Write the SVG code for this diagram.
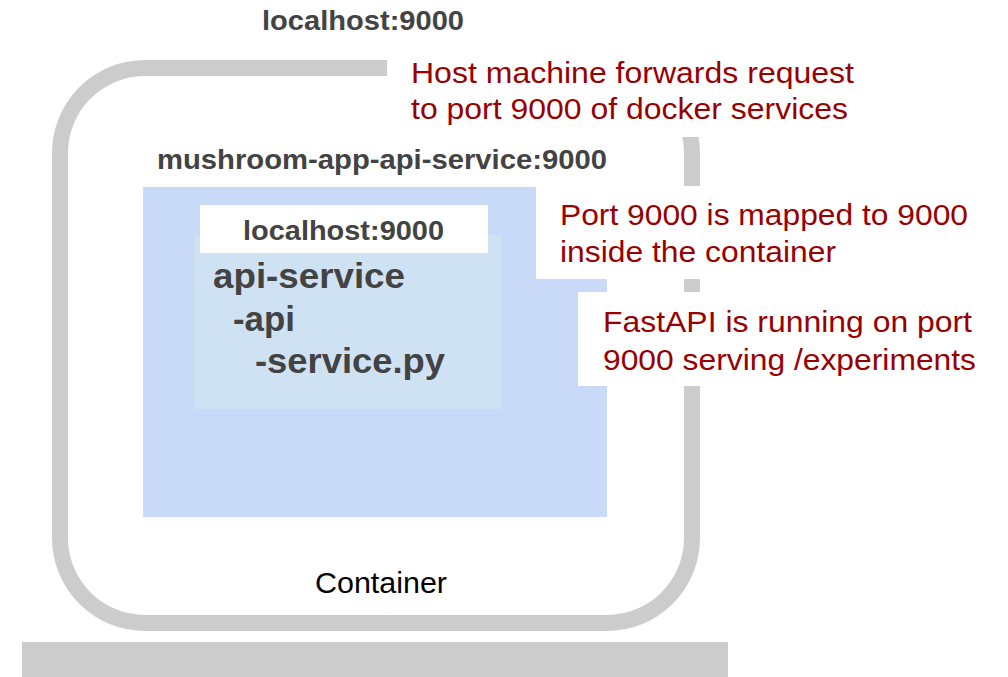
<svg xmlns="http://www.w3.org/2000/svg" width="1008" height="677" viewBox="0 0 1008 677">
  <style>
    .lbl { font-family: "Liberation Sans", Arial, sans-serif; font-weight: bold; fill: #434343; }
    .note { font-family: "Liberation Sans", Arial, sans-serif; font-size: 29px; fill: #990000; }
    .plain { font-family: "Liberation Sans", Arial, sans-serif; font-size: 29px; fill: #000000; }
    .frame { fill: none; stroke: #cccccc; stroke-width: 16; }
    .mask { fill: #ffffff; }
  </style>

  <rect width="1008" height="677" fill="#ffffff"/>

  <!-- host machine base -->
  <g id="host-base">
    <rect x="22" y="642" width="706" height="35" fill="#cccccc"/>
  </g>

  <!-- container outline -->
  <g id="container">
    <rect class="frame" x="60" y="68" width="632" height="555" rx="85" ry="85"/>
    <text class="plain" x="315" y="593" textLength="132" lengthAdjust="spacingAndGlyphs">Container</text>
  </g>

  <!-- host port label -->
  <g id="host-port">
    <text class="lbl" x="262" y="29.5" font-size="28" textLength="202" lengthAdjust="spacingAndGlyphs">localhost:9000</text>
  </g>

  <!-- docker service -->
  <g id="api-service-container">
    <text class="lbl" x="157" y="169" font-size="28" textLength="450" lengthAdjust="spacingAndGlyphs">mushroom-app-api-service:9000</text>
    <rect x="143" y="187" width="464" height="330" fill="#c9daf8"/>
  </g>

  <!-- application inside the container -->
  <g id="api-service-app">
    <rect x="194" y="235" width="308" height="174" fill="#cfe2f3"/>
    <rect x="200" y="205" width="288" height="48" fill="#ffffff"/>
    <text class="lbl" x="243" y="240" font-size="28" textLength="201" lengthAdjust="spacingAndGlyphs">localhost:9000</text>
    <text class="lbl" x="213" y="288" font-size="35" textLength="192" lengthAdjust="spacingAndGlyphs">api-service</text>
    <text class="lbl" x="233" y="331" font-size="35" textLength="62" lengthAdjust="spacingAndGlyphs">-api</text>
    <text class="lbl" x="255" y="373" font-size="35" textLength="190" lengthAdjust="spacingAndGlyphs">-service.py</text>
  </g>

  <!-- annotations -->
  <g id="note-forward">
    <rect class="mask" x="387" y="50" width="500" height="87"/>
    <text class="note" x="411" y="82.5" textLength="443" lengthAdjust="spacingAndGlyphs">Host machine forwards request</text>
    <text class="note" x="411" y="118.5" textLength="437" lengthAdjust="spacingAndGlyphs">to port 9000 of docker services</text>
  </g>

  <g id="note-mapping">
    <rect class="mask" x="536" y="186" width="460" height="93"/>
    <text class="note" x="560" y="225" textLength="408" lengthAdjust="spacingAndGlyphs">Port 9000 is mapped to 9000</text>
    <text class="note" x="560" y="261.5" textLength="276" lengthAdjust="spacingAndGlyphs">inside the container</text>
  </g>

  <g id="note-fastapi">
    <rect class="mask" x="578" y="292" width="425" height="94"/>
    <text class="note" x="603" y="331.5" textLength="369" lengthAdjust="spacingAndGlyphs">FastAPI is running on port</text>
    <text class="note" x="603" y="369.5" textLength="373" lengthAdjust="spacingAndGlyphs">9000 serving /experiments</text>
  </g>
</svg>
